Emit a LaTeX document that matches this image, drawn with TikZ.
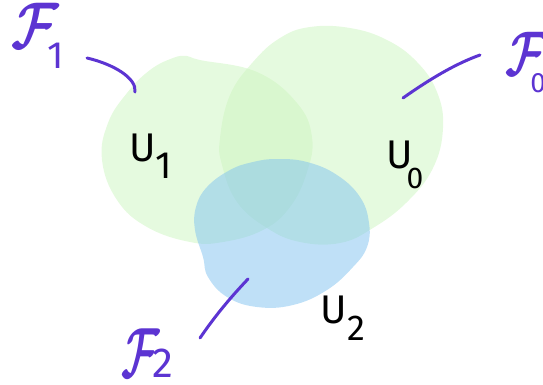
\documentclass[tikz,border=0pt]{standalone}
\usepackage{graphicx}
\usepackage{fontspec}
\newfontfamily\hand{Fira Sans}
\definecolor{gfill}{rgb}{0.80,0.96,0.75}
\definecolor{bfill}{rgb}{0.50,0.76,0.94}
\definecolor{pen}{RGB}{92,52,210}
\newcommand{\Fcal}[2]{\scalebox{#1}[#2]{\boldmath$\mathcal{F}$}}
\begin{document}
\begin{tikzpicture}[x=1pt,y=-1pt,
  blobg/.style={fill=gfill,fill opacity=0.5,draw=none},
  blobb/.style={fill=bfill,fill opacity=0.5,draw=none},
  lead/.style={draw=pen,line width=3pt,line cap=round},
  flab/.style={text=pen,inner sep=0pt,anchor=base west},
  ulab/.style={text=black,inner sep=0pt,anchor=base west,font=\hand\fontsize{40}{40}\selectfont}]
\useasboundingbox (0,0) rectangle (543,384);
% blobs
\path[blobg] plot[smooth cycle,tension=0.7] coordinates {(173,58) (187,56) (200,60) (257,72) (297,103) (312,137) (307,172) (290,207) (263,230) (223,242) (190,242) (147,227) (117,200) (102,160) (108,123) (127,93) (150,70)};
\path[blobg] plot[smooth cycle,tension=0.7] coordinates {(280,38) (310,27) (350,28) (387,40) (417,62) (437,92) (443,128) (433,168) (407,202) (373,228) (340,243) (300,242) (267,228) (237,202) (222,165) (220,138) (230,95) (253,62)};
\path[blobb] plot[smooth cycle,tension=0.7] coordinates {(253,162) (277,159) (307,162) (337,175) (360,197) (369,223) (367,247) (353,267) (327,290) (293,305) (257,307) (227,297) (208,277) (203,257) (195,230) (196,207) (207,187) (230,170)};
% labels
\node[flab] (f1) at (11,48) {\Fcal{5.2}{6.6}\kern-11pt\raisebox{-20pt}{\hand\fontsize{38}{38}\selectfont 1}};
\node[flab] (f0) at (505,75) {\Fcal{4.6}{6.3}\kern-17pt\raisebox{-17pt}{\hand\fontsize{28}{28}\selectfont 0}};
\node[flab] (f2) at (121,377) {\Fcal{4.2}{7.1}\kern-7pt\raisebox{0pt}{\hand\fontsize{42}{42}\selectfont 2}};
\node[ulab] (u1) at (129,161) {U\kern0pt\raisebox{-17pt}{\fontsize{38}{38}\selectfont 1}};
\node[ulab] (u0) at (386,168) {U\kern-6pt\raisebox{-20pt}{\fontsize{30}{30}\selectfont 0}};
\node[ulab] (u2) at (320,323) {U\kern1pt\raisebox{-17pt}{\fontsize{36}{36}\selectfont 2}};
% leader lines
\coordinate (a1) at (87,58);
\coordinate (b1) at (135,92);
\coordinate (a0) at (480,55);
\coordinate (b0) at (403,98);
\coordinate (a2) at (200,338);
\coordinate (b2) at (248,279);
\draw[lead] (a1) .. controls (113,64) and (137,78) .. (b1);
\draw[lead] (a0) .. controls (455,64) and (430,79) .. (b0);
\draw[lead] (a2) .. controls (215,316) and (230,298) .. (b2);
\end{tikzpicture}
\end{document}
